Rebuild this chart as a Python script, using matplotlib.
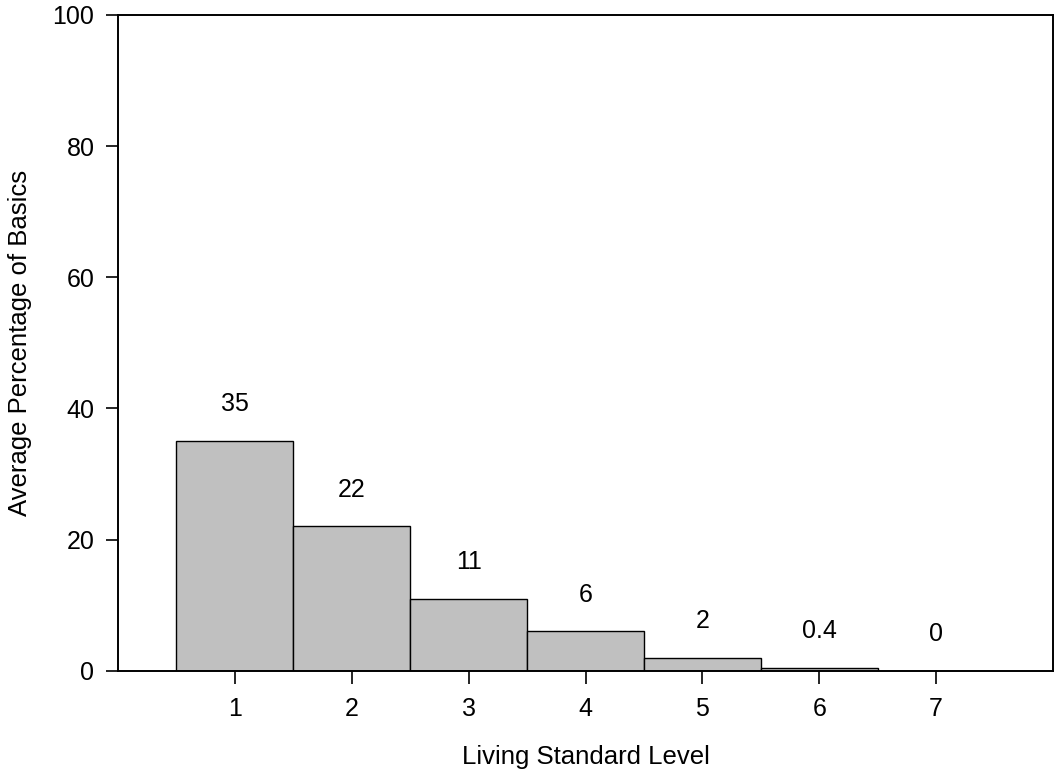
import matplotlib
matplotlib.use("Agg")
import matplotlib.pyplot as plt

levels = [1, 2, 3, 4, 5, 6, 7]
values = [35, 22, 11, 6, 2, 0.4, 0]
value_labels = ["35", "22", "11", "6", "2", "0.4", "0"]
yticks = [0, 20, 40, 60, 80, 100]

plt.rcParams['font.family'] = ['Liberation Sans', 'DejaVu Sans']
FS = 18
LFS = 18.5

fig = plt.figure(figsize=(10.58, 7.76), dpi=100)
ax = fig.add_axes([118/1058, 1-670.7/776, (1053-118)/1058, (670.7-15)/776])

ax.bar(levels, values, width=1.0, color='#c0c0c0', edgecolor='black', linewidth=1.0, zorder=2)
for x, v, t in zip(levels, values, value_labels):
    ax.annotate(t, (x, v), xytext=(0, 26.5), textcoords='offset points',
                ha='center', va='center', fontsize=FS)

ax.set_xlim(0, 8)
ax.set_ylim(0, 100)
ax.set_xticks(levels)
ax.set_yticks(yticks)
ax.tick_params(axis='both', direction='out', length=9, width=1.2, labelsize=FS)
ax.tick_params(axis='x', pad=10)
ax.tick_params(axis='y', pad=8)
for s in ax.spines.values():
    s.set_linewidth(1.4)
ax.set_xlabel("Living Standard Level", fontsize=LFS, labelpad=17)
ax.set_ylabel("Average Percentage of Basics", fontsize=LFS, labelpad=15)

fig.savefig("out.png", dpi=100)
